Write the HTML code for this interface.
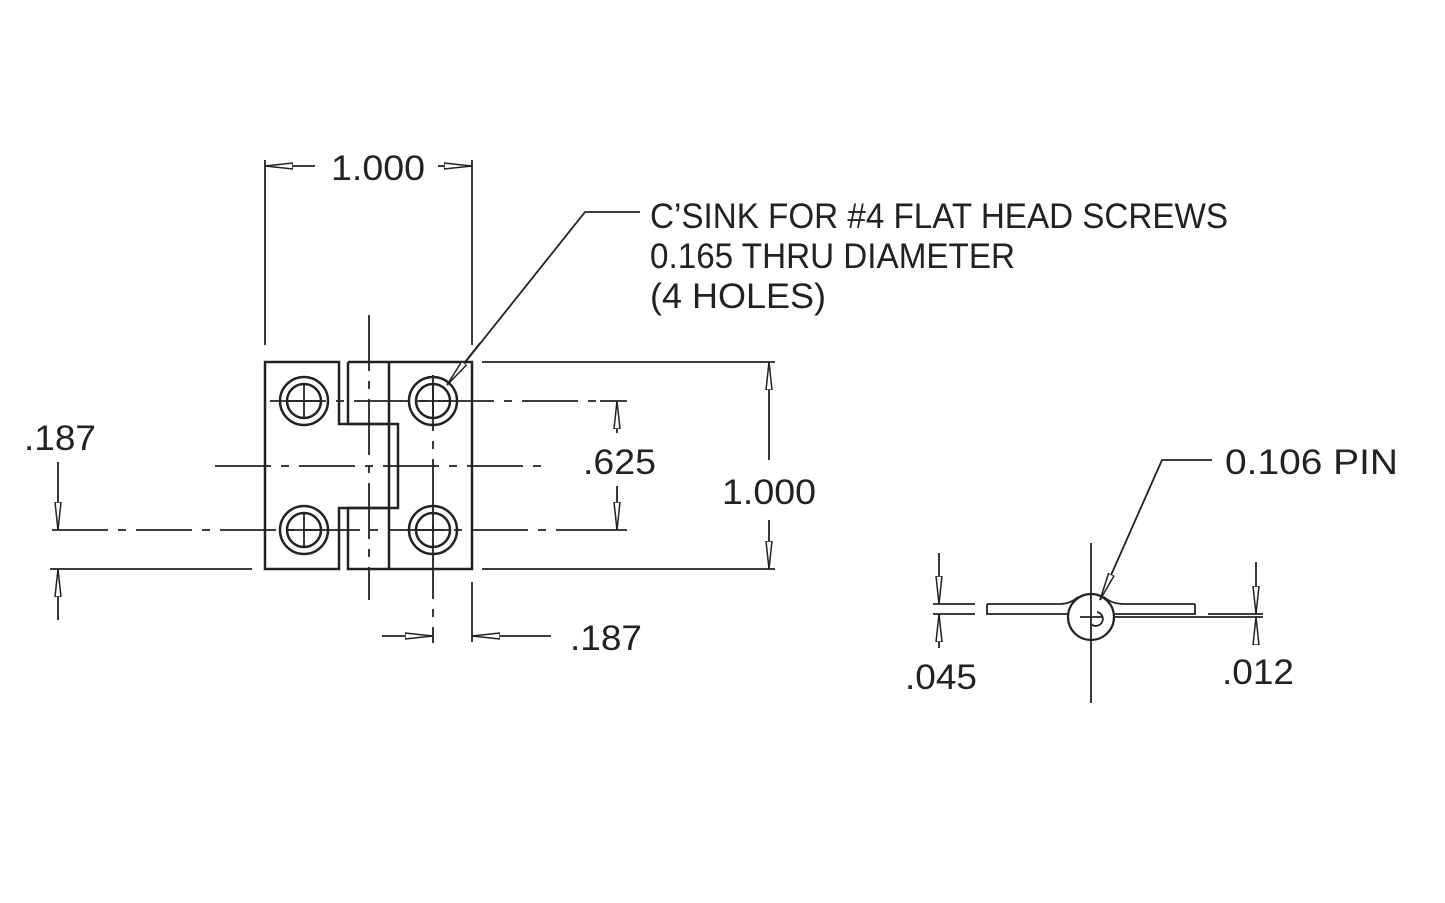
<!DOCTYPE html>
<html><head><meta charset="utf-8"><style>
html,body{margin:0;padding:0;background:#fff;}
svg{display:block;}
text{font-family:"Liberation Sans",sans-serif;font-size:35px;fill:#222;}
</style></head><body>
<svg width="1445" height="903" viewBox="0 0 1445 903" xmlns="http://www.w3.org/2000/svg">
<defs>
<marker id="a" viewBox="0 0 28 8" refX="28" refY="4" markerWidth="28" markerHeight="8" markerUnits="userSpaceOnUse" orient="auto">
<path d="M0,1 L28,4 L0,7 Z" fill="#fff" stroke="#222" stroke-width="1.5"/>
</marker>
</defs>
<g stroke="#222" stroke-width="2.5" fill="none">
<path d="M265,362 H339 V424 H398 V508 H339 V569 H265 Z"/>
<path d="M348,362 H472 V569 H348 V508 M348,424 V362"/>
<line x1="389" y1="362" x2="389" y2="569"/>
<line x1="348" y1="424" x2="389" y2="424"/>
<line x1="348" y1="508" x2="389" y2="508"/>
<g>
<circle cx="304" cy="401" r="24"/><circle cx="304" cy="401" r="17"/>
<circle cx="433" cy="401" r="24"/><circle cx="433" cy="401" r="17"/>
<circle cx="304" cy="530" r="24"/><circle cx="304" cy="530" r="17"/>
<circle cx="433" cy="530" r="24"/><circle cx="433" cy="530" r="17"/>
</g>
</g>
<g stroke="#222" stroke-width="1.8" fill="none">
<path d="M287,401 H321 M304,384 V418 M287,530 H321 M304,513 V547"/>
<path d="M416,401 H450 M433,384 V418 M416,530 H450 M433,513 V547"/>
<g stroke-dasharray="56 10 8 10">
<line x1="270" y1="401" x2="600" y2="401"/>
<line x1="52" y1="530" x2="600" y2="530"/>
<line x1="215" y1="466" x2="548" y2="466"/>
<line x1="369" y1="315" x2="369" y2="600"/>
<line x1="433" y1="375" x2="433" y2="643"/>
</g>
<line x1="265" y1="160" x2="265" y2="345"/>
<line x1="472" y1="160" x2="472" y2="345"/>
<line x1="315" y1="166" x2="265" y2="166" marker-end="url(#a)"/>
<line x1="438" y1="166" x2="472" y2="166" marker-end="url(#a)"/>
<line x1="482" y1="362" x2="775" y2="362"/>
<line x1="482" y1="569" x2="775" y2="569"/>
<line x1="769" y1="460" x2="769" y2="362" marker-end="url(#a)"/>
<line x1="769" y1="520" x2="769" y2="569" marker-end="url(#a)"/>
<line x1="600" y1="401" x2="627" y2="401"/>
<line x1="600" y1="530" x2="627" y2="530"/>
<line x1="617" y1="433" x2="617" y2="401" marker-end="url(#a)"/>
<line x1="617" y1="486" x2="617" y2="530" marker-end="url(#a)"/>
<line x1="50" y1="569" x2="252" y2="569"/>
<line x1="58" y1="462" x2="58" y2="530" marker-end="url(#a)"/>
<line x1="58" y1="620" x2="58" y2="569" marker-end="url(#a)"/>
<line x1="472" y1="582" x2="472" y2="642"/>
<line x1="382" y1="636" x2="433" y2="636" marker-end="url(#a)"/>
<line x1="551" y1="636" x2="472" y2="636" marker-end="url(#a)"/>
<polyline points="640,212 585,212 447,385"/>
<line x1="480" y1="343" x2="447" y2="385" marker-end="url(#a)"/>
<line x1="1091" y1="543" x2="1091" y2="703"/>
<path d="M987,604 H1060 Q1070,604 1078,597 M987,604 V614 H1068"/>
<path d="M1195,604 H1124 Q1112,604 1104,597 M1195,604 V614 H1115"/>
<line x1="1114" y1="617" x2="1263" y2="617"/>
<line x1="1208" y1="614" x2="1263" y2="614"/>
<circle cx="1091" cy="617" r="23" stroke-width="2.2"/>
<path d="M1097,612 A7,7 0 1 1 1091,624" />
<line x1="1080" y1="617" x2="1102" y2="617"/>
<line x1="933" y1="604" x2="975" y2="604"/>
<line x1="933" y1="614" x2="975" y2="614"/>
<line x1="939" y1="553" x2="939" y2="604" marker-end="url(#a)"/>
<line x1="939" y1="648" x2="939" y2="614" marker-end="url(#a)"/>
<line x1="1256" y1="562" x2="1256" y2="614" marker-end="url(#a)"/>
<line x1="1256" y1="644" x2="1256" y2="617" marker-end="url(#a)"/>
<polyline points="1212,460 1162,460 1100,600"/>
<line x1="1112" y1="573" x2="1100" y2="600" marker-end="url(#a)"/>
</g>
<g>
<text x="331" y="180" textLength="94" lengthAdjust="spacingAndGlyphs">1.000</text>
<text x="650" y="228" textLength="578" lengthAdjust="spacingAndGlyphs">C’SINK FOR #4 FLAT HEAD SCREWS</text>
<text x="650" y="268" textLength="365" lengthAdjust="spacingAndGlyphs">0.165 THRU DIAMETER</text>
<text x="650" y="308" textLength="176" lengthAdjust="spacingAndGlyphs">(4 HOLES)</text>
<text x="24" y="450" textLength="72" lengthAdjust="spacingAndGlyphs">.187</text>
<text x="583" y="474" textLength="73" lengthAdjust="spacingAndGlyphs">.625</text>
<text x="722" y="504" textLength="94" lengthAdjust="spacingAndGlyphs">1.000</text>
<text x="570" y="650" textLength="72" lengthAdjust="spacingAndGlyphs">.187</text>
<text x="1225" y="474" textLength="173" lengthAdjust="spacingAndGlyphs">0.106 PIN</text>
<text x="905" y="689" textLength="72" lengthAdjust="spacingAndGlyphs">.045</text>
<text x="1222" y="684" textLength="72" lengthAdjust="spacingAndGlyphs">.012</text>
</g>
</svg>
</body></html>
